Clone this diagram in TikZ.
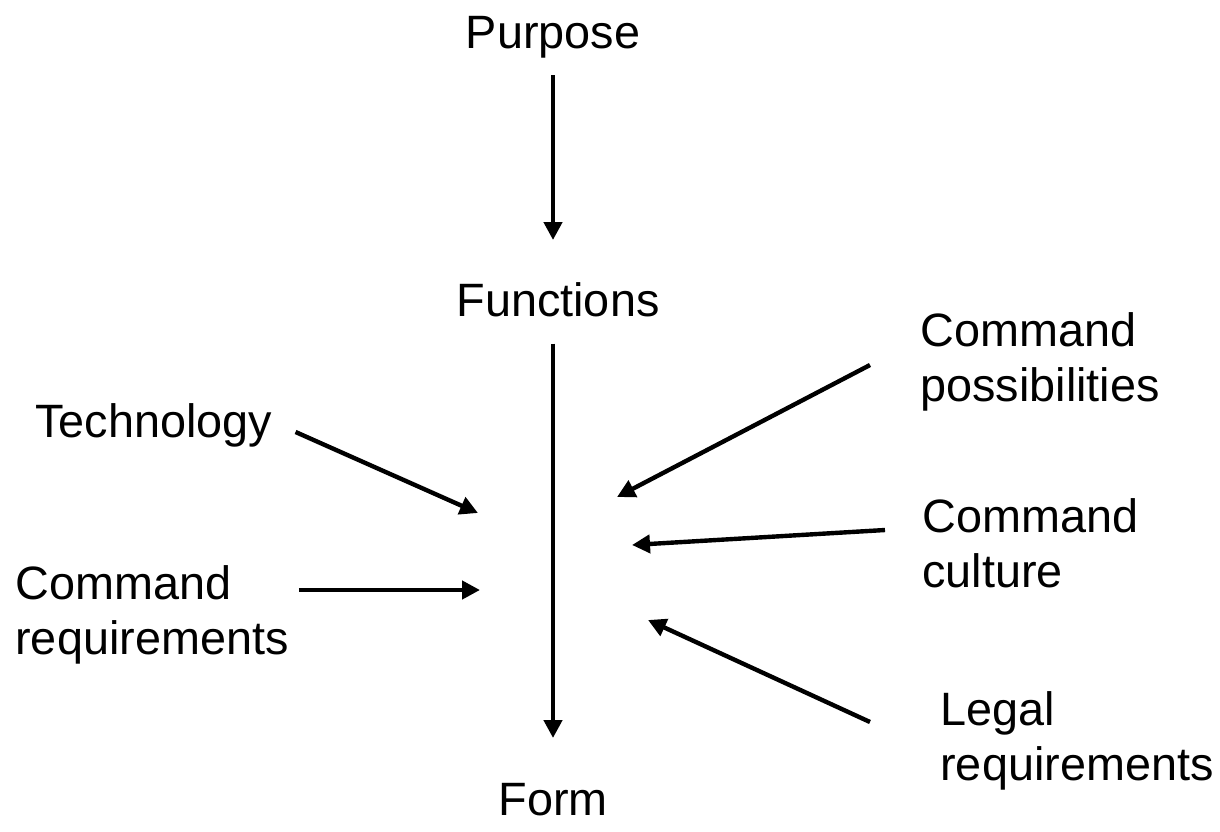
\documentclass[tikz,border=0pt]{standalone}
\usepackage{fontspec}
\setmainfont{Liberation Sans}
\usetikzlibrary{arrows.meta, positioning, calc}

\begin{document}
\begin{tikzpicture}[x=0.5pt, y=-0.5pt, >={Triangle[length=9pt, width=9pt]},
  lbl/.style={font=\fontsize{23.4}{27.5}\selectfont, inner sep=0pt, align=left},
  flow/.style={->, line width=2.2pt}]
  \useasboundingbox (0,0) rectangle (1220,831);
  % main chain
  \node[lbl] (purpose) at (553,37) {Purpose};
  \node[lbl] (functions) at (558,300) {Functions};
  \node[lbl] (form) at (553,800) {Form};
  % influences on the left
  \node[lbl, anchor=west] (tech) at (35,425) {Technology};
  \node[lbl, anchor=west] (creq) at (15,615) {Command\\requirements};
  % influences on the right
  \node[lbl, anchor=west] (cposs) at (920,362) {Command\\possibilities};
  \node[lbl, anchor=west] (ccult) at (922,543) {Command\\culture};
  \node[lbl, anchor=west] (legal) at (940,741) {Legal\\requirements};
  % arrow tips near the form arrow
  \coordinate (techtip) at (478,513);
  \coordinate (creqtip) at (480,590);
  \coordinate (cposstip) at (617,497);
  \coordinate (cculttip) at (632,545);
  \coordinate (legaltip) at (648,620);
  \coordinate (functip) at (553,240);
  \coordinate (formtip) at (553,738);
  \draw[flow] ($(purpose.south |- 0,75)$) -- (functip);
  \draw[flow] ($(functions.south -| purpose.south)+(0,26)$) -- (formtip);
  \draw[flow] ($(tech.east)+(23,7)$) -- (techtip);
  \draw[flow] ($(creq.east |- creqtip)+(10,0)$) -- (creqtip);
  \draw[flow] ($(cposs.west)+(-50,3)$) -- (cposstip);
  \draw[flow] ($(ccult.west)+(-37,-13)$) -- (cculttip);
  \draw[flow] ($(legal.west)+(-70,-19)$) -- (legaltip);
\end{tikzpicture}
\end{document}
